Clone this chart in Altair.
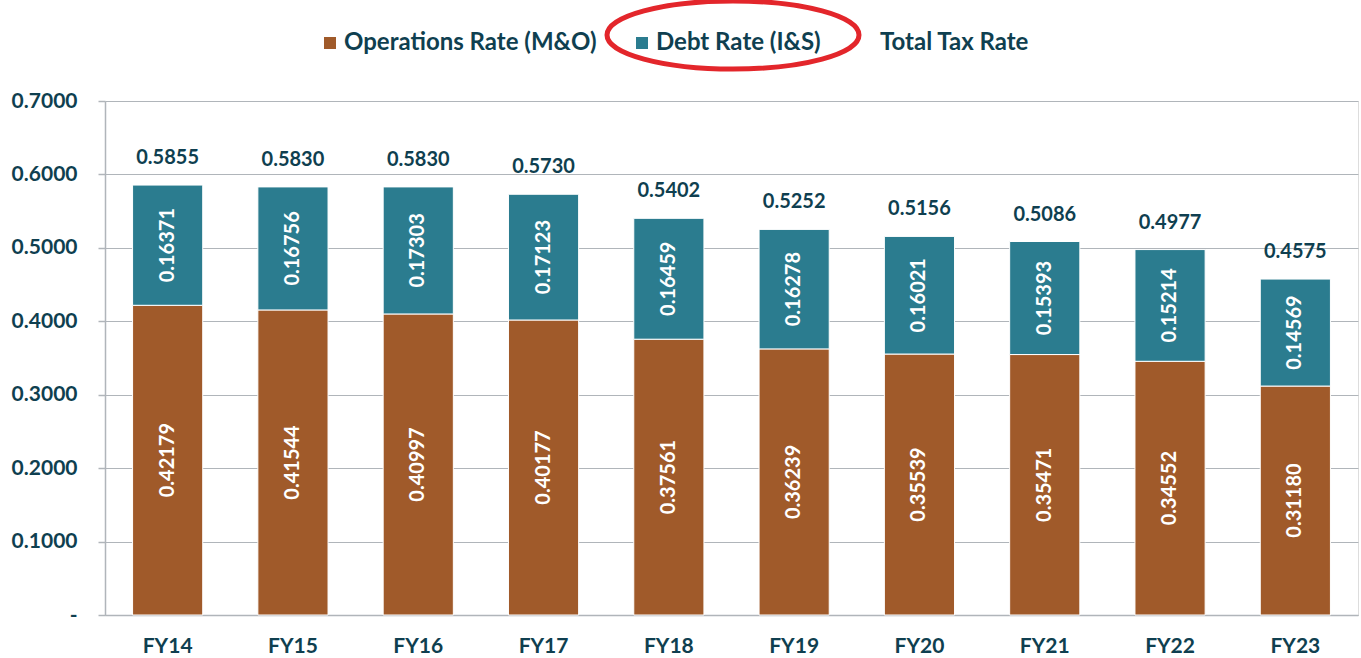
import altair as alt
import pandas as pd

years = ["FY14", "FY15", "FY16", "FY17", "FY18", "FY19", "FY20", "FY21", "FY22", "FY23"]
ops = [0.42179, 0.41544, 0.40997, 0.40177, 0.37561, 0.36239, 0.35539, 0.35471, 0.34552, 0.31180]
debt = [0.16371, 0.16756, 0.17303, 0.17123, 0.16459, 0.16278, 0.16021, 0.15393, 0.15214, 0.14569]
total = [0.5855, 0.5830, 0.5830, 0.5730, 0.5402, 0.5252, 0.5156, 0.5086, 0.4977, 0.4575]

S_OPS = "Operations Rate (M&O)"
S_DEBT = "Debt Rate (I&S)"
S_TOT = "Total Tax Rate"

BROWN = "#A05A2A"
TEAL = "#2B7C8F"
DARK = "#0F3F50"
GRID = "#B0B5BA"
FONT = "Lato"

rows = []
for i, y in enumerate(years):
    rows.append({"year": y, "series": S_OPS, "value": ops[i], "ord": 0,
                 "mid": ops[i] / 2, "label": f"{ops[i]:.5f}"})
    rows.append({"year": y, "series": S_DEBT, "value": debt[i], "ord": 1,
                 "mid": ops[i] + debt[i] / 2, "label": f"{debt[i]:.5f}"})
df = pd.DataFrame(rows)
tot_df = pd.DataFrame({"year": years, "total": total,
                       "label": [f"{t:.4f}" for t in total]})

xenc = alt.X("year:N", sort=years, title=None,
             scale=alt.Scale(paddingInner=0.44, paddingOuter=0.22),
             axis=alt.Axis(labelAngle=0, labelFont=FONT, labelFontSize=21,
                           labelFontWeight="bold", labelColor=DARK, labelPadding=20,
                           ticks=False, domainColor=GRID, domainWidth=1.5))
yscale = alt.Scale(domain=[0, 0.7], nice=False)

bars = alt.Chart(df).mark_bar(stroke="white", strokeWidth=1).encode(
    x=xenc,
    y=alt.Y("value:Q", stack="zero", scale=yscale, title=None,
            axis=alt.Axis(values=[0, 0.1, 0.2, 0.3, 0.4, 0.5, 0.6, 0.7],
                          labelExpr="datum.value == 0 ? '-' : format(datum.value, '.4f')",
                          labelFont=FONT, labelFontSize=21, labelFontWeight="bold",
                          labelColor=DARK, labelPadding=21, tickSize=7, tickColor=GRID,
                          tickWidth=1.5, domainColor=GRID, domainWidth=1.5,
                          grid=True, gridColor=GRID, gridWidth=1.2)),
    color=alt.Color("series:N",
                    scale=alt.Scale(domain=[S_OPS, S_DEBT, S_TOT],
                                    range=[BROWN, TEAL, "transparent"]),
                    legend=alt.Legend(title=None, orient="none", direction="horizontal",
                                      legendX=213, legendY=-70, symbolType="square",
                                      symbolSize=144, symbolStrokeWidth=0,
                                      labelFont=FONT, labelFontSize=24,
                                      labelFontWeight="bold", labelColor=DARK,
                                      labelLimit=400, columnPadding=33, labelOffset=2)),
    order=alt.Order("ord:Q"),
)

seg_text = alt.Chart(df).mark_text(angle=270, color="white", font=FONT, fontSize=20,
                                   fontWeight="bold", baseline="middle").encode(
    x=alt.X("year:N", sort=years),
    y=alt.Y("mid:Q", scale=yscale),
    text="label:N",
)

tot_text = alt.Chart(tot_df).mark_text(color=DARK, font=FONT, fontSize=20,
                                       fontWeight="bold", baseline="middle", dy=-27).encode(
    x=alt.X("year:N", sort=years),
    y=alt.Y("total:Q", scale=yscale),
    text="label:N",
)

ellipse_path = "M -1 0 A 1 0.27 0 1 1 1 0 A 1 0.27 0 1 1 -1 0 Z"
ellipse = alt.Chart(pd.DataFrame({"a": [0]})).mark_point(
    shape=ellipse_path, filled=False, stroke="#E3262B", strokeWidth=5, opacity=1
).encode(x=alt.value(628), y=alt.value(-66), size=alt.value(63504))

chart = alt.layer(bars, seg_text, tot_text, ellipse).properties(
    width=1253, height=514,
    autosize=alt.AutoSizeParams(type="none"),
    padding={"left": 105, "top": 101, "right": 3, "bottom": 43},
).configure_view(stroke=None).configure(background="white")

chart.save("out.html", embed_options={"renderer": "svg", "actions": False})
